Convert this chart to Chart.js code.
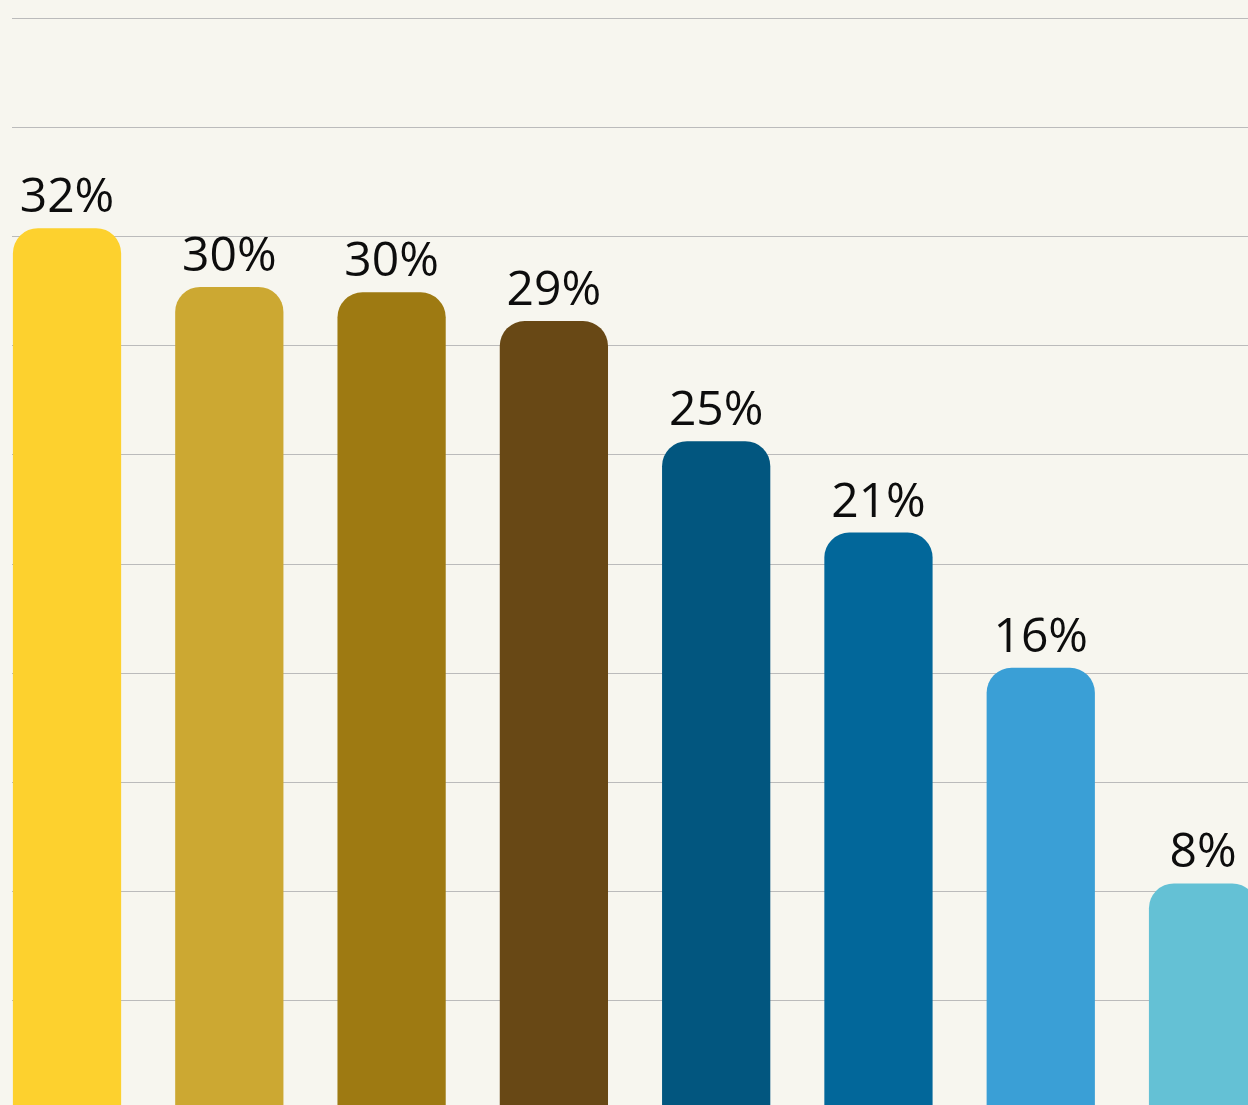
<!DOCTYPE html>
<html>
<head>
<meta charset="utf-8">
<script src="https://cdn.jsdelivr.net/npm/chart.js@4.4.1/dist/chart.umd.min.js"></script>
<style>
    html, body { margin: 0; padding: 0; background: #F7F6EF; }
    #wrap { width: 1248px; height: 1105px; overflow: hidden; position: relative; }
    canvas { display: block; }
</style>
</head>
<body>
<div id="wrap"><canvas id="barChart" width="1248" height="1120"></canvas></div>
<script>
// valores
const categories = ['Grupo 1', 'Grupo 2', 'Grupo 3', 'Grupo 4', 'Grupo 5', 'Grupo 6', 'Grupo 7', 'Grupo 8'];
const values = [32.3, 30.15, 29.95, 28.9, 24.5, 21.15, 16.2, 8.3];
const valueLabels = ['32%', '30%', '30%', '29%', '25%', '21%', '16%', '8%'];
const barColors = ['#FDD12E', '#CCA832', '#9E7A12', '#684815', '#02567F', '#02679A', '#3A9FD6', '#64C1D5'];

// escreve o rótulo em cima de cada barra
const topLabels = {
    id: 'topLabels',
    afterDatasetsDraw: function (chart) {
        const ctx = chart.ctx;
        const meta = chart.getDatasetMeta(0);
        ctx.save();
        ctx.font = '48px "Open Sans"';
        ctx.fillStyle = '#0d0d0d';
        ctx.textAlign = 'center';
        ctx.textBaseline = 'alphabetic';
        meta.data.forEach(function (bar, i) {
            ctx.fillText(valueLabels[i], bar.x, bar.y - 16);
        });
        ctx.restore();
    }
};

const ctx = document.getElementById('barChart');
new Chart(ctx, {
    type: 'bar',
    data: {
        datasets: [{
            label: 'Percentual',
            data: values.map(function (v, i) { return { x: i, y: v, name: categories[i] }; }),
            backgroundColor: barColors,
            borderWidth: 0,
            borderRadius: { topLeft: 25, topRight: 25, bottomLeft: 0, bottomRight: 0 },
            borderSkipped: 'bottom',
            barPercentage: 0.667,
            categoryPercentage: 1
        }]
    },
    options: {
        responsive: false,
        animation: false,
        layout: {
            padding: { top: 18, left: 12, right: 0, bottom: 10 }
        },
        plugins: {
            legend: { display: false },
            tooltip: { enabled: false }
        },
        scales: {
            x: {
                type: 'linear',
                display: false,
                min: -0.339,
                max: 7.277,
                offset: false
            },
            y: {
                min: 0,
                max: 40,
                border: { display: false },
                grid: {
                    color: '#BBBBBB',
                    lineWidth: 1,
                    drawTicks: false
                },
                ticks: {
                    display: false,
                    stepSize: 4
                }
            }
        }
    },
    plugins: [topLabels]
});
</script>
</body>
</html>
